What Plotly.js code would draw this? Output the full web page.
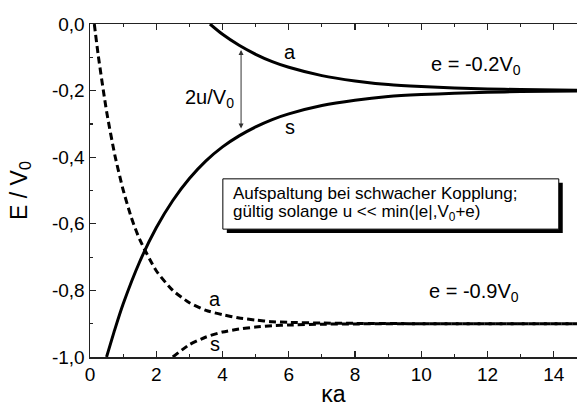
<!DOCTYPE html>
<html><head><meta charset="utf-8">
<script src="https://cdn.plot.ly/plotly-3.0.1.min.js"></script>
<style>html,body{margin:0;padding:0;background:#fff}#c{width:578px;height:407px}</style>
</head><body><div id="c"></div>
<script>
// e = -0.2 V0, antisymmetric (a) and symmetric (s)
const xA02 = [3.62, 4, 4.5, 5, 5.5, 6, 7, 8, 9, 10, 11, 12, 13, 14.7];
const yA02 = [0.0, -0.031, -0.064, -0.091, -0.113, -0.130, -0.155, -0.171, -0.182, -0.188, -0.192, -0.195, -0.197, -0.199];
const xS02 = [0.5, 0.75, 1, 1.5, 2, 2.5, 3, 3.5, 4, 4.5, 5, 5.5, 6, 7, 8, 9, 10, 11, 12, 13, 14.7];
const yS02 = [-1.0, -0.917, -0.841, -0.714, -0.612, -0.530, -0.464, -0.411, -0.369, -0.336, -0.309, -0.287, -0.270, -0.245, -0.229, -0.218, -0.212, -0.208, -0.205, -0.203, -0.2015];
// e = -0.9 V0
const xA09 = [0.13, 0.25, 0.5, 0.75, 1, 1.25, 1.5, 2, 2.5, 3, 3.5, 4, 4.5, 5, 5.5, 6, 7, 8, 10, 14.7];
const yA09 = [0.0, -0.095, -0.262, -0.394, -0.498, -0.582, -0.647, -0.741, -0.800, -0.837, -0.860, -0.873, -0.883, -0.889, -0.894, -0.896, -0.898, -0.899, -0.9, -0.9];
const xS09 = [2.5, 3, 3.5, 4, 4.5, 5, 5.5, 6, 7, 8, 10, 14.7];
const yS09 = [-1.0, -0.963, -0.940, -0.925, -0.916, -0.910, -0.906, -0.904, -0.9015, -0.9006, -0.9, -0.9];
const xTicks = [0, 2, 4, 6, 8, 10, 12, 14];
const yTicks = [0, -0.2, -0.4, -0.6, -0.8, -1.0];
const yTickText = ['0,0', '-0,2', '-0,4', '-0,6', '-0,8', '-1,0'];

const F = 'Liberation Sans, Arial, sans-serif';
const solid = {color: '#000', width: 3, shape: 'spline', smoothing: 0.6};
const dashed = {color: '#000', width: 3, dash: '7px,4px', shape: 'spline', smoothing: 0.6};
const traces = [
  {x: xA02, y: yA02, mode: 'lines', line: solid},
  {x: xS02, y: yS02, mode: 'lines', line: solid},
  {x: xA09, y: yA09, mode: 'lines', line: dashed},
  {x: xS09, y: yS09, mode: 'lines', line: dashed}
];
const axisCommon = {showgrid: false, zeroline: false, showline: true, linecolor: '#222', linewidth: 1.5,
  ticks: 'inside', ticklen: 6, tickwidth: 1.2, tickcolor: '#222',
  tickfont: {family: F, size: 19, color: '#000'}};
const layout = {
  width: 578, height: 407, showlegend: false,
  margin: {l: 90, r: 1, t: 24, b: 50},
  paper_bgcolor: '#fff', plot_bgcolor: '#fff',
  font: {family: F, color: '#000'},
  xaxis: Object.assign({}, axisCommon, {range: [0, 14.7], tickvals: xTicks, ticktext: xTicks.map(String), mirror: 'ticks',
    minor: {dtick: 1, tick0: 0, ticks: 'inside', ticklen: 3, tickcolor: '#222', tickwidth: 1.2},
    title: {text: 'κa', font: {family: F, size: 23}, standoff: 3}}),
  yaxis: Object.assign({}, axisCommon, {range: [-1, 0], tickvals: yTicks, ticktext: yTickText,
    minor: {dtick: 0.1, tick0: 0, ticks: 'inside', ticklen: 3, tickcolor: '#222', tickwidth: 1.2},
    title: {text: 'E / V<sub>0</sub>', font: {family: F, size: 23}, standoff: 18}}),
  shapes: [
    {type: 'rect', xref: 'x', yref: 'y', x0: 4.13, x1: 14.27, y0: -0.628, y1: -0.477, fillcolor: '#000', line: {width: 0}},
    {type: 'rect', xref: 'x', yref: 'y', x0: 4.01, x1: 14.15, y0: -0.616, y1: -0.465, fillcolor: '#fff', line: {color: '#000', width: 1}}
  ],
  annotations: [
    {x: 6.04, y: -0.084, text: 'a', showarrow: false, font: {family: F, size: 20}},
    {x: 6.04, y: -0.31, text: 's', showarrow: false, font: {family: F, size: 20}},
    {x: 11.65, y: -0.125, text: 'e = -0.2V<sub>0</sub>', showarrow: false, font: {family: F, size: 20}},
    {x: 4.41, y: -0.225, text: '2u/V<sub>0</sub>', showarrow: false, xanchor: 'right', font: {family: F, size: 20}},
    {x: 4.56, y: -0.078, ax: 4.56, ay: -0.318, axref: 'x', ayref: 'y', text: '', showarrow: true,
      arrowhead: 2, startarrowhead: 2, arrowside: 'end+start', arrowwidth: 1, arrowcolor: '#333', arrowsize: 1, startarrowsize: 1, standoff: 0, startstandoff: 0},
    {x: 3.77, y: -0.826, text: 'a', showarrow: false, font: {family: F, size: 20}},
    {x: 3.77, y: -0.962, text: 's', showarrow: false, font: {family: F, size: 20}},
    {x: 11.6, y: -0.805, text: 'e = -0.9V<sub>0</sub>', showarrow: false, font: {family: F, size: 20}},
    {x: 4.25, y: -0.508, xanchor: 'left', yanchor: 'middle', showarrow: false, font: {family: F, size: 17},
      text: 'Aufspaltung bei schwacher Kopplung;'},
    {x: 4.25, y: -0.569, xanchor: 'left', yanchor: 'middle', showarrow: false, font: {family: F, size: 17},
      text: 'gültig solange u &lt;&lt; min(|e|,V<sub>0</sub>+e)'}
  ]
};
Plotly.newPlot('c', traces, layout, {staticPlot: true, displayModeBar: false});
</script></body></html>
